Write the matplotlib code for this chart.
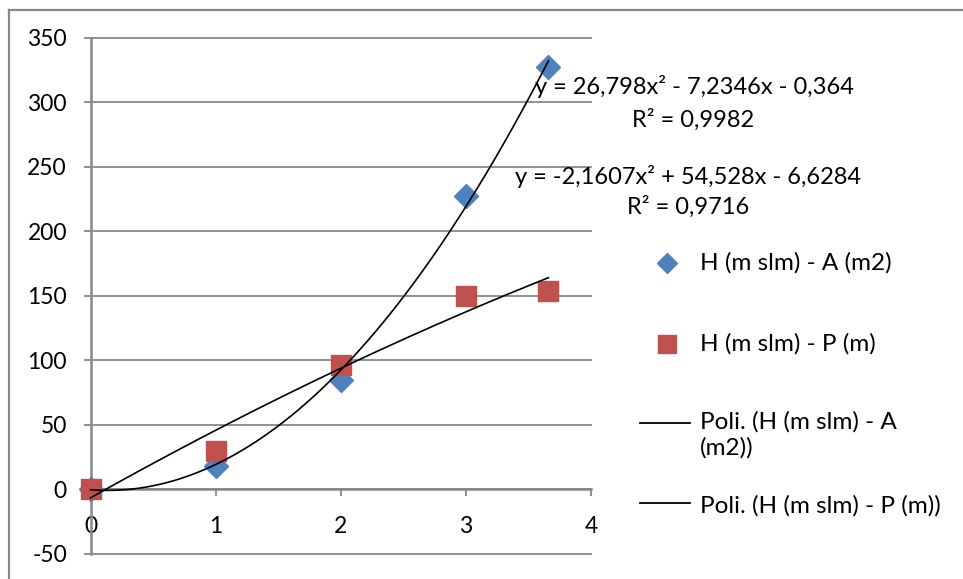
import numpy as np
import matplotlib
matplotlib.use("Agg")
import matplotlib.pyplot as plt
from matplotlib.lines import Line2D

# Data
H = [0, 1, 2, 3, 3.66]
A = [0, 18, 85, 227, 327]
P = [0, 30, 96, 150, 154]
coefA = [26.798, -7.2346, -0.364]
coefP = [-2.1607, 54.528, -6.6284]
eqA = "y = 26,798x² - 7,2346x - 0,364"
r2A = "R² = 0,9982"
eqP = "y = -2,1607x² + 54,528x - 6,6284"
r2P = "R² = 0,9716"
labels = ["H (m slm) - A (m2)", "H (m slm) - P (m)",
          "Poli. (H (m slm) - A\n(m2))", "Poli. (H (m slm) - P (m))"]
yticks = [-50, 0, 50, 100, 150, 200, 250, 300, 350]
xticks = [0, 1, 2, 3, 4]

BLUE = "#4F81BD"
RED = "#C0504D"
GRAY = "#888888"
FS_TICK = 16.5
FS_EQ = 17
FS_LEG = 17.5

plt.rcParams['font.family'] = ['Lato', 'DejaVu Sans']

W, Hh = 963, 579
fig = plt.figure(figsize=(W / 100, Hh / 100), dpi=100)
ax = fig.add_axes([90.5 / W, 1 - 553.8 / Hh, (591 - 90.5) / W, (553.8 - 37.7) / Hh])

ax.set_xlim(0, 4)
ax.set_ylim(-50, 350)

ax.plot(H, A, linestyle='none', marker='D', markersize=12, color=BLUE, zorder=3,
        clip_on=False)
ax.plot(H, P, linestyle='none', marker='s', markersize=15, color=RED, zorder=3,
        clip_on=False)

xs = np.linspace(0, max(H), 200)
ax.plot(xs, np.polyval(coefA, xs), color='black', lw=1.2, zorder=4, clip_on=False)
ax.plot(xs, np.polyval(coefP, xs), color='black', lw=1.2, zorder=4, clip_on=False)

ax.set_yticks(yticks)
ax.set_xticks(xticks)
ax.set_yticklabels([str(v) for v in yticks])
ax.set_xticklabels([str(v) for v in xticks])
ax.yaxis.grid(True, color=GRAY, lw=1.3)
ax.set_axisbelow(True)
for gl in ax.get_ygridlines():
    gl.set_clip_on(False)

for s in ['top', 'right']:
    ax.spines[s].set_visible(False)
ax.spines['bottom'].set_position(('data', 0))
ax.spines['left'].set_color(GRAY)
ax.spines['bottom'].set_color(GRAY)
ax.spines['left'].set_linewidth(1.8)
ax.spines['bottom'].set_linewidth(1.8)
ax.tick_params(axis='y', direction='out', length=5, width=1.3, color=GRAY,
               labelsize=FS_TICK, pad=12)
ax.tick_params(axis='x', direction='out', length=5, width=1.3, color=GRAY,
               labelsize=FS_TICK, pad=14)

# Equation labels
def ftxt(x, y, s, fs, **kw):
    fig.text(x / W, 1 - y / Hh, s, fontsize=fs, va='center', **kw)

ftxt(694, 87, eqA, FS_EQ, ha='center')
ftxt(693, 120, r2A, FS_EQ, ha='center')
ftxt(688, 177, eqP, FS_EQ, ha='center')
ftxt(688, 207, r2P, FS_EQ, ha='center')

# Legend (manual)
fig.add_artist(Line2D([666.7 / W], [1 - 263.3 / Hh], marker='D', markersize=10,
                      color=BLUE, linestyle='none'))
fig.add_artist(Line2D([666.7 / W], [1 - 344.3 / Hh], marker='s', markersize=13,
                      color=RED, linestyle='none'))
fig.add_artist(Line2D([640 / W, 690 / W], [1 - 422.7 / Hh] * 2, color='black', lw=1.3))
fig.add_artist(Line2D([640 / W, 690 / W], [1 - 502.7 / Hh] * 2, color='black', lw=1.3))
ftxt(700, 263, labels[0], FS_LEG, ha='left')
ftxt(700, 344, labels[1], FS_LEG, ha='left')
fig.text(700 / W, 1 - 411 / Hh, labels[2], fontsize=FS_LEG, ha='left', va='top',
         linespacing=1.25)
ftxt(700, 506, labels[3], FS_LEG, ha='left')

# Outer frame
fig.add_artist(Line2D([8.5 / W, 1.0], [1 - 9.5 / Hh] * 2, color=GRAY, lw=1.6))
fig.add_artist(Line2D([8.5 / W] * 2, [0, 1 - 9.5 / Hh], color=GRAY, lw=1.6))

fig.savefig("out.png", dpi=100)
